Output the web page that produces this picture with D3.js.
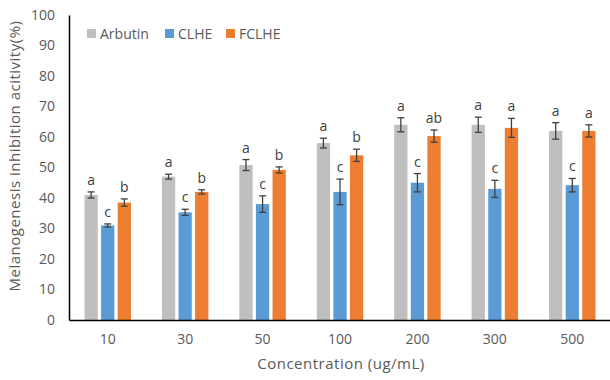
<!DOCTYPE html>
<html>
<head>
<meta charset="utf-8">
<script src="https://cdn.jsdelivr.net/npm/d3@7"></script>
<style>
  body { margin: 0; background: #fff; }
  svg { font-family: "Open Sans", Lato, sans-serif; }
</style>
</head>
<body>
<svg id="chart" width="610" height="380"></svg>
<script>
const concentrations = ['10', '30', '50', '100', '200', '300', '500'];
const series = ['Arbutin', 'CLHE', 'FCLHE'];
const colors = ['#BFBFBF', '#5B9BD5', '#ED7D31'];

const arbutin = [41, 47, 50.8, 58, 64, 64, 62];
const clhe = [31, 35.3, 38, 42, 45, 43, 44.2];
const fclhe = [38.5, 42, 49.2, 54, 60.3, 63, 62];

const arbutinErr = [1, 0.8, 1.8, 1.6, 2.3, 2.5, 2.7];
const clheErr = [0.5, 1, 2.7, 4.2, 3, 2.8, 2.2];
const fclheErr = [1.2, 0.7, 1, 2, 2, 3.1, 2];

const arbutinLetters = ['a', 'a', 'a', 'a', 'a', 'a', 'a'];
const clheLetters = ['c', 'c', 'c', 'c', 'c', 'c', 'c'];
const fclheLetters = ['b', 'b', 'b', 'b', 'ab', 'a', 'a'];

const yTicks = [0, 10, 20, 30, 40, 50, 60, 70, 80, 90, 100];

const values = [arbutin, clhe, fclhe];
const errs = [arbutinErr, clheErr, fclheErr];
const letters = [arbutinLetters, clheLetters, fclheLetters];

const svg = d3.select('#chart');
const plotLeft = 69, plotRight = 611, plotTop = 15, plotBottom = 320;
const textColor = '#595959';

const x = d3.scaleBand().domain(concentrations).range([plotLeft, plotRight])
  .paddingInner(0.4).paddingOuter(0.2);
const xs = d3.scaleBand().domain(series).range([0, x.bandwidth()]).paddingInner(0.2);
const y = d3.scaleLinear().domain([0, 100]).range([plotBottom, plotTop]);

const rows = [];
concentrations.forEach((c, i) => {
  series.forEach((s, j) => {
    rows.push({ c, s, j, v: values[j][i], e: errs[j][i], l: letters[j][i] });
  });
});

// bars
svg.append('g').selectAll('rect')
  .data(rows)
  .enter()
  .append('rect')
  .attr('x', d => x(d.c) + xs(d.s))
  .attr('y', d => y(d.v))
  .attr('width', xs.bandwidth())
  .attr('height', d => y(0) - y(d.v))
  .attr('fill', d => colors[d.j]);

// error bars
const eb = svg.append('g').attr('stroke', '#404040').attr('stroke-width', 1.3);
rows.forEach(d => {
  const cx = x(d.c) + xs(d.s) + xs.bandwidth() / 2;
  eb.append('line').attr('x1', cx).attr('x2', cx).attr('y1', y(d.v + d.e)).attr('y2', y(d.v - d.e));
  eb.append('line').attr('x1', cx - 3.5).attr('x2', cx + 3.5).attr('y1', y(d.v + d.e)).attr('y2', y(d.v + d.e));
  eb.append('line').attr('x1', cx - 3.5).attr('x2', cx + 3.5).attr('y1', y(d.v - d.e)).attr('y2', y(d.v - d.e));
});

// significance letters
svg.append('g').selectAll('text')
  .data(rows)
  .enter()
  .append('text')
  .attr('x', d => x(d.c) + xs(d.s) + xs.bandwidth() / 2)
  .attr('y', d => y(d.v + d.e) - 7)
  .attr('text-anchor', 'middle')
  .attr('font-size', 14)
  .attr('fill', '#404040')
  .text(d => d.l);

// axes
const yAxis = svg.append('g')
  .attr('transform', `translate(${plotLeft},0)`)
  .call(d3.axisLeft(y).tickValues(yTicks).tickSize(0).tickPadding(14));
yAxis.select('.domain').attr('stroke', '#000').attr('stroke-width', 1.5);
yAxis.selectAll('text').attr('font-size', 14).attr('fill', textColor).attr('font-family', '"Open Sans", sans-serif');

const xAxis = svg.append('g')
  .attr('transform', `translate(0,${plotBottom})`)
  .call(d3.axisBottom(x).tickSize(0).tickPadding(14));
xAxis.select('.domain').attr('stroke', '#000').attr('stroke-width', 1.5);
xAxis.selectAll('text').attr('font-size', 14).attr('fill', textColor).attr('font-family', '"Open Sans", sans-serif');

// axis titles
svg.append('text')
  .attr('x', 341).attr('y', 369)
  .attr('text-anchor', 'middle')
  .attr('font-size', 15)
  .attr('letter-spacing', 0.5)
  .attr('fill', textColor)
  .text('Concentration (ug/mL)');

svg.append('text')
  .attr('transform', 'translate(20,156) rotate(-90)')
  .attr('text-anchor', 'middle')
  .attr('font-size', 15)
  .attr('letter-spacing', 0.5)
  .attr('fill', textColor)
  .text('Melanogenesis inhibition acitivity(%)');

// legend
const legendX = [87, 165, 226];
const legend = svg.append('g').selectAll('g')
  .data(series)
  .enter()
  .append('g')
  .attr('transform', (d, i) => `translate(${legendX[i]},29)`);
legend.append('rect').attr('width', 9).attr('height', 9).attr('fill', (d, i) => colors[i]);
legend.append('text').attr('x', 13).attr('y', 9.5)
  .attr('font-size', 14).attr('fill', textColor).text(d => d);
</script>
</body>
</html>
